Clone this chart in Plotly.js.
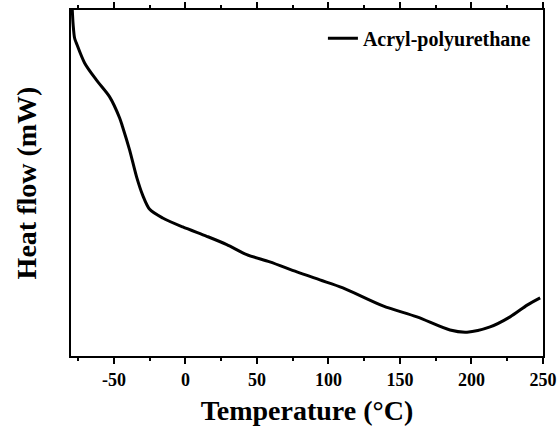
<!DOCTYPE html>
<html>
<head>
<meta charset="utf-8">
<script src="https://cdn.plot.ly/plotly-3.0.1.min.js"></script>
<style>html,body{margin:0;padding:0;background:#fff;}#chart{width:558px;height:431px;}</style>
</head>
<body>
<div id="chart"></div>
<script>
const seriesName = "Acryl-polyurethane";
const temperature = [-79.1,-78.5,-77.5,-76.3,-70.5,-62.3,-53.0,-46.0,-43.9,-39.0,-34.1,-29.9,-25.0,-15.9,-1.9,14.9,28.9,42.9,59.0,77.9,94.0,110.1,138.1,161.9,185.0,196.9,213.0,227.0,238.9,248.0];
const heatFlow = [100.0,95.7,91.9,90.5,84.7,79.8,74.9,68.8,66.2,59.5,51.7,46.5,42.4,39.9,37.3,34.6,32.2,29.3,27.2,24.3,22.0,19.7,14.5,11.3,7.5,6.9,8.4,11.3,14.7,16.8];
const xTickVals = [-50,0,50,100,150,200,250];
const xTickText = ["-50","0","50","100","150","200","250"];

const font = {family: "Liberation Serif", color: "#000", weight: "bold"};

Plotly.newPlot("chart", [{
  x: temperature, y: heatFlow, type: "scatter", mode: "lines", name: seriesName,
  line: {color: "#000", width: 3, shape: "spline", smoothing: 0.8}
}], {
  width: 558, height: 431,
  margin: {l: 71, r: 15, t: 10, b: 75},
  paper_bgcolor: "#fff", plot_bgcolor: "#fff",
  font: Object.assign({}, font, {size: 18}),
  showlegend: true,
  legend: {x: 0.985, y: 0.975, xanchor: "right", yanchor: "top", bgcolor: "rgba(0,0,0,0)",
           font: Object.assign({}, font, {size: 20})},
  xaxis: {
    range: [-80, 250], tickvals: xTickVals, ticktext: xTickText,
    ticks: "outside", ticklen: 6, tickwidth: 2, tickcolor: "#000",
    minor: {dtick: 25, tick0: 0, ticks: "outside", ticklen: 3, tickwidth: 2, tickcolor: "#000"},
    showline: true, linecolor: "#000", linewidth: 2, mirror: "ticks",
    showgrid: false, zeroline: false,
    tickfont: Object.assign({}, font, {size: 18}),
    title: {text: "Temperature (°C)", font: Object.assign({}, font, {size: 28}), standoff: 12}
  },
  yaxis: {
    range: [0, 100], showticklabels: false, ticks: "",
    showline: true, linecolor: "#000", linewidth: 2, mirror: true,
    showgrid: false, zeroline: false,
    title: {text: "Heat flow (mW)", font: Object.assign({}, font, {size: 28}), standoff: 24}
  }
}, {displayModeBar: false, staticPlot: true});
</script>
</body>
</html>
